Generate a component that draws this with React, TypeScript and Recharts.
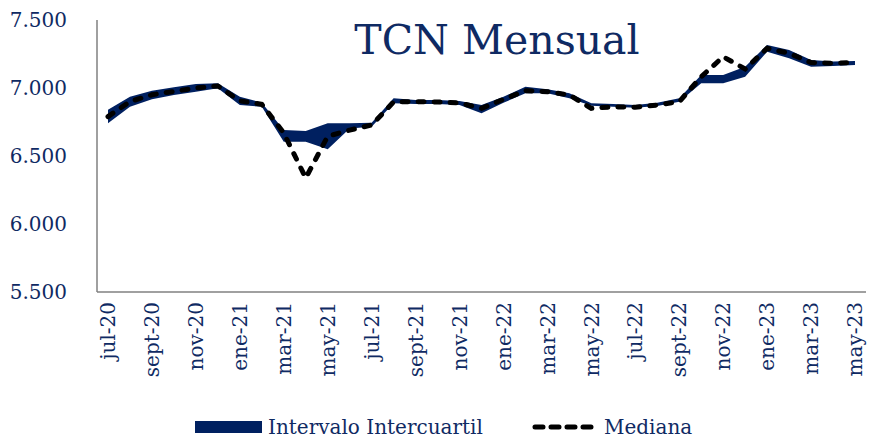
import { ComposedChart, Area, Line, XAxis, YAxis, Legend } from 'recharts';

const months = [
  'jul-20', 'ago-20', 'sept-20', 'oct-20', 'nov-20', 'dic-20',
  'ene-21', 'feb-21', 'mar-21', 'abr-21', 'may-21', 'jun-21',
  'jul-21', 'ago-21', 'sept-21', 'oct-21', 'nov-21', 'dic-21',
  'ene-22', 'feb-22', 'mar-22', 'abr-22', 'may-22', 'jun-22',
  'jul-22', 'ago-22', 'sept-22', 'oct-22', 'nov-22', 'dic-22',
  'ene-23', 'feb-23', 'mar-23', 'abr-23', 'may-23',
];

// percentil 25 / 75
const q1 = [
  6740, 6862, 6917, 6949, 6973, 6998, 6875, 6862, 6605, 6605, 6549, 6703,
  6715, 6887, 6882, 6882, 6875, 6814, 6892, 6961, 6961, 6924, 6870, 6862,
  6855, 6868, 6899, 7035, 7035, 7083, 7267, 7218, 7157, 7162, 7169,
];
const q3 = [
  6840, 6936, 6980, 7005, 7029, 7035, 6936, 6892, 6691, 6684, 6740, 6740,
  6745, 6924, 6912, 6912, 6904, 6875, 6936, 7010, 6990, 6961, 6887, 6882,
  6875, 6892, 6924, 7096, 7096, 7157, 7316, 7279, 7206, 7194, 7198,
];
const mediana = [
  6790, 6900, 6950, 6975, 7000, 7015, 6905, 6880, 6669, 6338, 6645, 6690,
  6728, 6897, 6900, 6897, 6890, 6850, 6917, 6980, 6973, 6949, 6850, 6862,
  6858, 6875, 6899, 7083, 7230, 7140, 7292, 7255, 7187, 7182, 7187,
];

const yTicks = [5500, 6000, 6500, 7000, 7500];

const data = months.map((m, i) => ({
  month: m,
  rango: [q1[i], q3[i]],
  mediana: mediana[i],
}));

const NAVY = '#002060';
const TEXT = '#0f2a63';
const FONT = '"DejaVu Serif", serif';

const fmt = (v: number) => v.toLocaleString('de-DE');

function MonthTick({ x, y, payload }: any) {
  return (
    <g transform={`translate(${x},${y})`}>
      <text
        transform="rotate(-90)"
        x={-2}
        y={0}
        dy="0.36em"
        textAnchor="end"
        fill={TEXT}
        fontSize={20}
        fontFamily={FONT}
      >
        {payload.value}
      </text>
    </g>
  );
}

function LegendBox() {
  return (
    <svg width={871} height={30} style={{ display: 'block' }}>
      <rect x={195} y={9} width={67} height={12} fill={NAVY} />
      <text x={268} y={22} fill={TEXT} fontSize={20} fontFamily={FONT}>
        Intervalo Intercuartil
      </text>
      <line
        x1={535}
        y1={15}
        x2={598}
        y2={15}
        stroke="#000"
        strokeWidth={5}
        strokeLinecap="round"
        strokeDasharray="8 8"
      />
      <text x={604} y={22} fill={TEXT} fontSize={20} fontFamily={FONT}>
        Mediana
      </text>
    </svg>
  );
}

export default function App() {
  return (
    <div style={{ position: 'absolute', left: 0, top: 0, width: 871, height: 442, background: '#fff' }}>
      <div
        style={{
          position: 'absolute',
          left: 297,
          top: 20,
          width: 400,
          textAlign: 'center',
          fontFamily: FONT,
          fontSize: 41,
          lineHeight: '41px',
          color: TEXT,
        }}
      >
        TCN Mensual
      </div>
      <ComposedChart
        width={871}
        height={442}
        data={data}
        margin={{ top: 20, right: 5, bottom: 0, left: 0 }}
      >
        <XAxis
          dataKey="month"
          interval={1}
          height={120}
          tickLine={false}
          tickSize={0}
          tickMargin={8}
          axisLine={{ stroke: '#808080', strokeWidth: 1.5 }}
          tick={<MonthTick />}
          padding={{ left: 11, right: 11 }}
        />
        <YAxis
          width={97}
          domain={[5500, 7500]}
          ticks={yTicks}
          tickFormatter={fmt}
          tickLine={false}
          tickSize={0}
          tickMargin={30}
          axisLine={{ stroke: '#808080', strokeWidth: 1.5 }}
          tick={{ fill: TEXT, fontSize: 20, fontFamily: FONT }}
        />
        <Area
          dataKey="rango"
          type="linear"
          stroke="none"
          fill={NAVY}
          fillOpacity={1}
          isAnimationActive={false}
        />
        <Line
          dataKey="mediana"
          type="linear"
          stroke="#000"
          strokeWidth={5}
          strokeLinecap="round"
          strokeDasharray="6 10"
          dot={false}
          activeDot={false}
          isAnimationActive={false}
        />
        <Legend verticalAlign="bottom" content={() => <LegendBox />} />
      </ComposedChart>
    </div>
  );
}
